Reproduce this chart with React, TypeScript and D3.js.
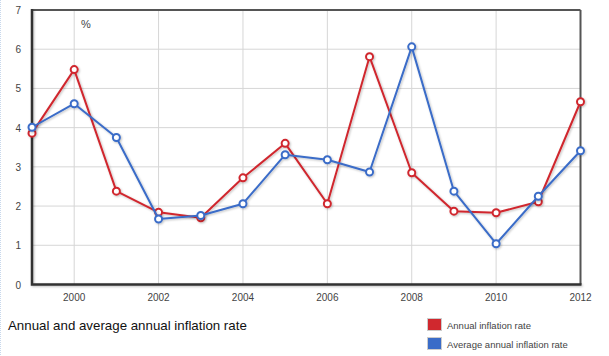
import React from "react";
import * as d3 from "d3";

const years = [1999, 2000, 2001, 2002, 2003, 2004, 2005, 2006, 2007, 2008, 2009, 2010, 2011, 2012];
const annual = [3.86, 5.48, 2.38, 1.84, 1.7, 2.72, 3.6, 2.06, 5.81, 2.85, 1.87, 1.83, 2.11, 4.66];
const average = [4.01, 4.61, 3.75, 1.67, 1.76, 2.06, 3.31, 3.18, 2.87, 6.06, 2.38, 1.04, 2.25, 3.41];
const xTicks = [2000, 2002, 2004, 2006, 2008, 2010, 2012];
const yTicks = [0, 1, 2, 3, 4, 5, 6, 7];
const seriesNames = ["Annual inflation rate", "Average annual inflation rate"];
const seriesColors = ["#d0282e", "#3a6cc8"];
const title = "Annual and average annual inflation rate";
const unit = "%";

const W = 609, H = 356;
const L = 32, R = 580.5, T = 10, B = 284.5;

export default function App() {
  const x = d3.scaleLinear().domain([1999, 2012]).range([L, R]);
  const y = d3.scaleLinear().domain([0, 7]).range([B, T]);
  const line = d3.line<number>().x((_, i) => x(years[i])).y((d) => y(d));
  const series = [annual, average];
  const font = "Arial, 'Liberation Sans', sans-serif";
  return (
    <svg width={W} height={H} style={{ position: "absolute", left: 0, top: 0, background: "#fff" }} fontFamily={font}>
      <defs>
        <filter id="sh" filterUnits="userSpaceOnUse" x={0} y={0} width={W} height={H}>
          <feDropShadow dx="1" dy="1" stdDeviation="0.8" floodColor="#000" floodOpacity="0.25" />
        </filter>
      </defs>
      <line x1={0.5} x2={0.5} y1={0} y2={H} stroke="#c8d8ec" strokeDasharray="1,1" />
      {yTicks.filter((t) => t > 0 && t < 7).map((t) => (
        <line key={"gy" + t} x1={L} x2={R} y1={y(t)} y2={y(t)} stroke="#d6d6d6" strokeWidth={1} />
      ))}
      {xTicks.filter((t) => t < 2012).map((t) => (
        <line key={"gx" + t} x1={x(t)} x2={x(t)} y1={T} y2={B} stroke="#d6d6d6" strokeWidth={1} />
      ))}
      {/* frame */}
      <line x1={L} x2={R} y1={T} y2={T} stroke="#555" strokeWidth={2} />
      <line x1={R} x2={R} y1={T} y2={B} stroke="#555" strokeWidth={2} />
      <path d={`M${L},${T - 1}V${B}H${R + 1}`} fill="none" stroke="#333" strokeWidth={2.5} filter="url(#sh)" />
      {yTicks.map((t) => (
        <text key={"ty" + t} x={21} y={y(t) + 4} textAnchor="end" fontSize={10} fill="#444">{t}</text>
      ))}
      {xTicks.map((t) => (
        <text key={"tx" + t} x={x(t)} y={301} textAnchor="middle" fontSize={10} fill="#444">{t}</text>
      ))}
      <text x={86} y={28} textAnchor="middle" fontSize={11} fill="#444">{unit}</text>
      {series.map((s, si) => (
        <g key={"s" + si} filter="url(#sh)">
          <path d={line(s) || ""} fill="none" stroke={seriesColors[si]} strokeWidth={2} strokeLinejoin="round" />
          {s.map((v, i) => (
            <circle key={i} cx={x(years[i])} cy={y(v)} r={3.5} fill="#fff" stroke={seriesColors[si]} strokeWidth={2} />
          ))}
        </g>
      ))}
      <text x={8} y={330} fontSize={13.3} fill="#111">{title}</text>
      {seriesNames.map((n, i) => (
        <g key={"lg" + i}>
          <rect x={427.5} y={318.5 + i * 19} width={14} height={12} fill={seriesColors[i]} stroke="#ccc" strokeWidth={1} />
          <text x={447} y={328.5 + i * 19} fontSize={9.5} fill="#444">{n}</text>
        </g>
      ))}
    </svg>
  );
}
